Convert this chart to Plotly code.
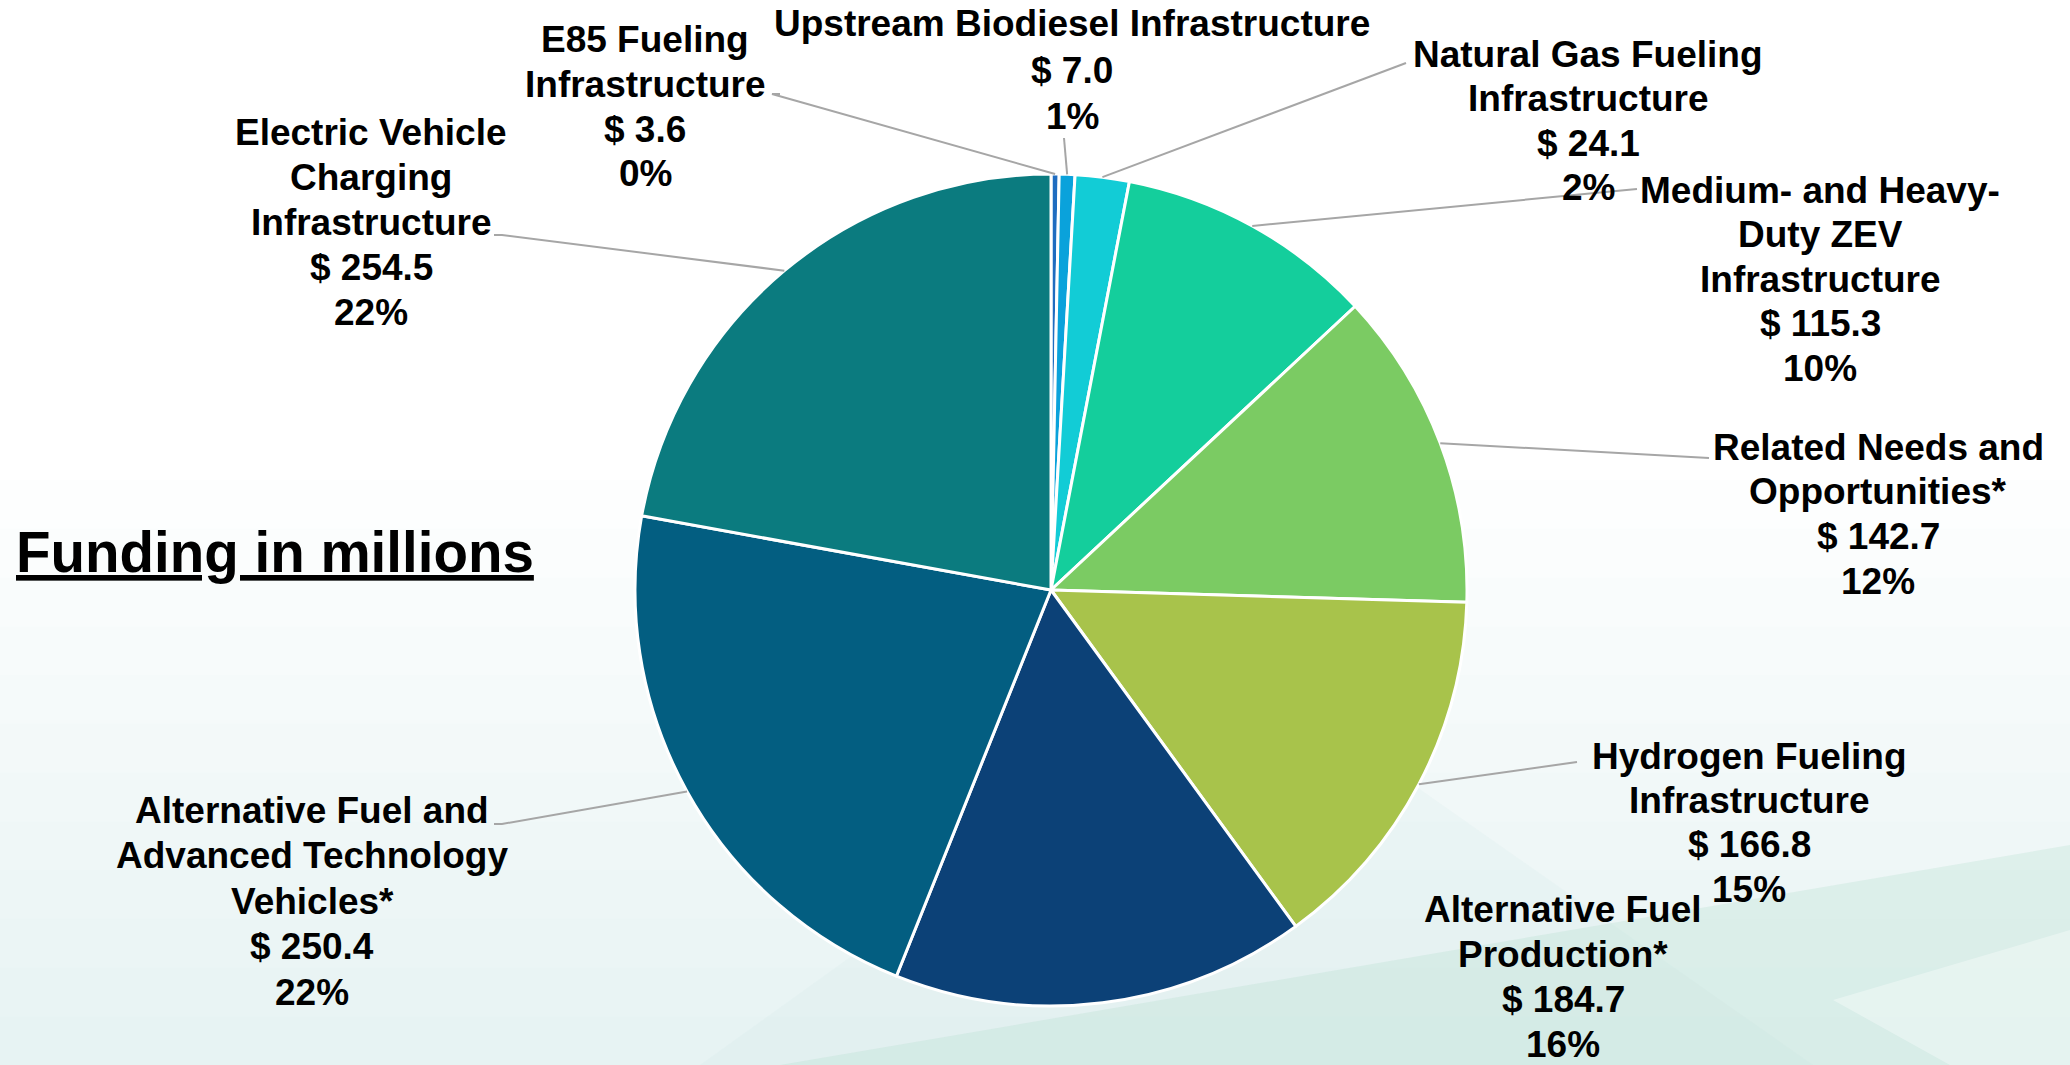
import math
import plotly.graph_objects as go

W, H = 2070, 1065

# ---- data ----
categories = [
    ["E85 Fueling", "Infrastructure"],
    ["Upstream Biodiesel Infrastructure"],
    ["Natural Gas Fueling", "Infrastructure"],
    ["Medium- and Heavy-", "Duty ZEV", "Infrastructure"],
    ["Related Needs and", "Opportunities*"],
    ["Hydrogen Fueling", "Infrastructure"],
    ["Alternative Fuel", "Production*"],
    ["Alternative Fuel and", "Advanced Technology", "Vehicles*"],
    ["Electric Vehicle", "Charging", "Infrastructure"],
]
funding = [3.6, 7.0, 24.1, 115.3, 142.7, 166.8, 184.7, 250.4, 254.5]
title_text = "Funding in millions"

# ---- style ----
colors = ["#1F6CC0", "#0AA2DB", "#12CCD6", "#14CE9C", "#7BCB63",
          "#A8C34B", "#0C4177", "#035E81", "#0B7B7F"]
# label centre x and first-line centre y (px), line spacing
label_x = [645, 1072, 1588, 1820, 1878, 1749, 1563, 312, 371]
label_y0 = [40, 24, 54, 190, 447, 756, 909, 810, 132]
label_dy = [44.5, 46, 44.5, 44.6, 44.8, 44.4, 45.2, 45.5, 45.2]
leader_end = [(772, 94), (1064, 138), (1406, 63), (1637, 189), (1709, 458),
              (1577, 762), None, (502, 824), (502, 235)]
leader_tick = [8, 0, 0, 0, 0, 0, 0, -8, -8]
FONT = "Liberation Sans, Arial, sans-serif"

CX, CY, R = 1051, 590, 416


def px(x):
    return x / W


def py(y):
    return 1 - y / H


def path(points, close=True):
    s = "M " + " L ".join(f"{px(x):.5f},{py(y):.5f}" for x, y in points)
    return s + (" Z" if close else "")


fig = go.Figure()
fig.add_trace(go.Pie(
    labels=[" ".join(c) for c in categories],
    values=funding,
    sort=False,
    direction="clockwise",
    rotation=0,
    marker=dict(colors=colors, line=dict(color="white", width=3)),
    textinfo="none",
    hoverinfo="label+value+percent",
    showlegend=False,
    domain=dict(x=[px(CX - R), px(CX + R)], y=[py(CY + R), py(CY - R)]),
))

shapes = []
# background: soft vertical gradient
n = 12
for i in range(n):
    y0 = 480 + i * (H - 480) / n
    shapes.append(dict(type="rect", xref="paper", yref="paper", x0=0, x1=1,
                       y0=0, y1=py(y0), line=dict(width=0),
                       fillcolor="rgb(200,226,228)", opacity=0.035, layer="below"))
shapes.append(dict(type="path", xref="paper", yref="paper",
                   path=path([(1250, 670), (1813, 1065), (700, 1065)]),
                   line=dict(width=0), fillcolor="rgb(200,230,225)", opacity=0.15,
                   layer="below"))
shapes.append(dict(type="path", xref="paper", yref="paper",
                   path=path([(780, 1065), (2070, 845), (2070, 1065)]),
                   line=dict(width=0), fillcolor="rgb(170,218,198)", opacity=0.25,
                   layer="below"))
shapes.append(dict(type="path", xref="paper", yref="paper",
                   path=path([(1833, 1000), (2070, 930), (2070, 1065), (1950, 1065)]),
                   line=dict(width=0), fillcolor="rgb(255,255,255)", opacity=0.35,
                   layer="below"))

# leader lines from slice mid-angles (computed from data) and labels
total = sum(funding)
cum = 0.0
annotations = []
for i, v in enumerate(funding):
    mid = (cum + v / 2) / total * 2 * math.pi
    cum += v
    ax = CX + R * math.sin(mid)
    ay = CY - R * math.cos(mid)
    end = leader_end[i]
    if end is not None:
        ex, ey = end
        pts = [(ax, ay), (ex, ey)]
        if leader_tick[i]:
            pts.append((ex + leader_tick[i], ey))
        shapes.append(dict(type="path", xref="paper", yref="paper",
                           path=path(pts, close=False),
                           line=dict(color="#A6A6A6", width=2)))
    pct = round(v / total * 100)
    lines = categories[i] + [f"$ {v:.1f}", f"{pct}%"]
    for k, ln in enumerate(lines):
        yy = label_y0[i] + k * label_dy[i]
        annotations.append(dict(text=f"<b>{ln}</b>", xref="paper", yref="paper",
                                x=px(label_x[i]), y=py(yy),
                                xanchor="center", yanchor="middle", showarrow=False,
                                font=dict(family=FONT, size=37, color="black")))

annotations.append(dict(text=f"<b><u>{title_text}</u></b>", xref="paper", yref="paper",
                        x=px(14), y=py(552), xanchor="left", yanchor="middle",
                        showarrow=False,
                        font=dict(family=FONT, size=56.5, color="black")))

fig.update_layout(
    width=W, height=H,
    margin=dict(l=0, r=0, t=0, b=0),
    paper_bgcolor="white", plot_bgcolor="white",
    shapes=shapes, annotations=annotations,
)

fig.write_html("out.html",
               config={"displayModeBar": False},
               post_script="document.body.style.margin='0';"
                           "document.body.style.overflow='hidden';")
